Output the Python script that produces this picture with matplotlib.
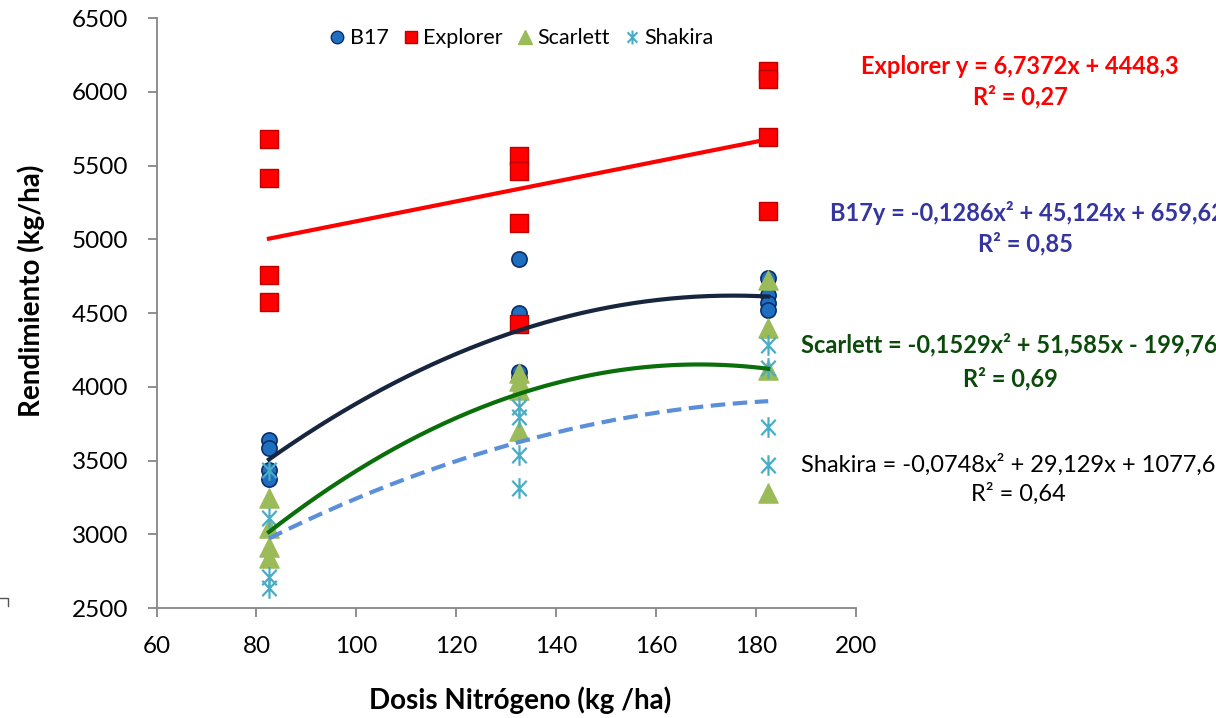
import numpy as np
import matplotlib.pyplot as plt
from matplotlib.path import Path
from matplotlib.lines import Line2D

plt.rcParams['font.family'] = ['Lato', 'DejaVu Sans']

# dosis de nitrógeno (kg/ha) y rendimientos por variedad
dosis = [82.5] * 4 + [132.5] * 4 + [182.5] * 4
b17 = [3640, 3585, 3436, 3375, 4864, 4502, 4102, 4056, 4740, 4620, 4570, 4520]
explorer = [5680, 5415, 4758, 4575, 5565, 5465, 5110, 4425, 6140, 6085, 5695, 5190]
scarlett = [3246, 3040, 2915, 2840, 4090, 4040, 3980, 3700, 4724, 4396, 4114, 3278]
shakira = [3436, 3110, 2710, 2636, 3865, 3797, 3537, 3311, 4280, 4130, 3730, 3470]

# coeficientes de las líneas de tendencia (mayor grado primero)
coef_explorer = [6.7372, 4448.3]
coef_b17 = [-0.1286, 45.124, 659.62]
coef_scarlett = [-0.1529, 51.585, -199.76]
coef_shakira = [-0.0748, 29.129, 1077.6]

# asterisco tipo Excel: x con una barra vertical
star = Path([(0, -1), (0, 1), (-0.7, -0.75), (0.7, 0.75), (-0.7, 0.75), (0.7, -0.75)],
            [Path.MOVETO, Path.LINETO, Path.MOVETO, Path.LINETO, Path.MOVETO, Path.LINETO])

W, H = 1216, 718
fig = plt.figure(figsize=(W / 100, H / 100), dpi=100)
ax = fig.add_axes([0.1288, 0.1532, 0.5748, 0.8217])

ax.scatter(dosis, b17, marker='o', s=120, c='#1F6FC0', edgecolors='#0B2E6B', linewidths=1.2, zorder=3)
ax.scatter(dosis, explorer, marker='s', s=150, c='#FF0000', edgecolors='#C00000', linewidths=1.0, zorder=3)
ax.scatter(dosis, scarlett, marker='^', s=190, c='#9BBB59', edgecolors='#9BBB59', linewidths=1.0, zorder=3)
ax.scatter(dosis, shakira, marker=star, s=220, c='#4BACC6', linewidths=1.6, zorder=3)

xt = np.linspace(min(dosis), max(dosis), 200)
ax.plot(xt, np.polyval(coef_explorer, xt), color='#FF0000', lw=3, zorder=4)
ax.plot(xt, np.polyval(coef_b17, xt), color='#17253F', lw=3, zorder=4)
ax.plot(xt, np.polyval(coef_scarlett, xt), color='#0A6E0A', lw=3, zorder=4)
ax.plot(xt, np.polyval(coef_shakira, xt), color='#5B8FD9', lw=3, ls=(0, (3.5, 1.8)), zorder=4)

ax.set_xlim(60, 200)
ax.set_ylim(2500, 6500)
ax.set_xticks(np.arange(60, 201, 20))
ax.set_yticks(np.arange(2500, 6501, 500))
for s in ['top', 'right']:
    ax.spines[s].set_visible(False)
for s in ['left', 'bottom']:
    ax.spines[s].set_color('#868686')
    ax.spines[s].set_linewidth(1.3)
ax.tick_params(axis='both', direction='out', length=6.5, width=1.3, color='#868686', labelsize=17.5)
ax.tick_params(axis='y', pad=14)
ax.tick_params(axis='x', pad=14)

# títulos de los ejes
fig.text(520 / W, 1 - 700 / H, 'Dosis Nitrógeno (kg /ha)', fontsize=20, fontweight='bold',
         ha='center', va='center')
fig.text(31 / W, 1 - 291 / H, 'Rendimiento (kg/ha)', fontsize=20, fontweight='bold',
         rotation=90, ha='center', va='center')

handles = [
    Line2D([], [], ls='', marker='o', ms=9, mfc='#1F6FC0', mec='#0B2E6B'),
    Line2D([], [], ls='', marker='s', ms=9, mfc='#FF0000', mec='#C00000'),
    Line2D([], [], ls='', marker='^', ms=10, mfc='#9BBB59', mec='#9BBB59'),
    Line2D([], [], ls='', marker=star, ms=10, mec='#4BACC6', mew=1.5),
]
ax.legend(handles, ['B17', 'Explorer', 'Scarlett', 'Shakira'], loc='center', bbox_to_anchor=(0.52, 0.966),
          ncol=4, frameon=False, fontsize=15.5, handletextpad=0.1, columnspacing=0.5, handlelength=1.0)

# ecuaciones de las tendencias
fs = 17
fig.text(1020 / W, 1 - 66 / H, 'Explorer y = 6,7372x + 4448,3', color='#FF0000', fontsize=fs,
         fontweight='bold', ha='center', va='center')
fig.text(1020 / W, 1 - 97 / H, 'R² = 0,27', color='#FF0000', fontsize=fs, fontweight='bold',
         ha='center', va='center')
fig.text(830 / W, 1 - 213 / H, 'B17y = -0,1286x² + 45,124x + 659,62', color='#3535A0', fontsize=fs,
         fontweight='bold', ha='left', va='center')
fig.text(1026 / W, 1 - 244 / H, 'R² = 0,85', color='#3535A0', fontsize=fs, fontweight='bold',
         ha='center', va='center')
fig.text(801 / W, 1 - 345 / H, 'Scarlett = -0,1529x² + 51,585x - 199,76', color='#0B4A0B', fontsize=fs,
         fontweight='bold', ha='left', va='center')
fig.text(1010 / W, 1 - 379 / H, 'R² = 0,69', color='#0B4A0B', fontsize=fs, fontweight='bold',
         ha='center', va='center')
fig.text(801 / W, 1 - 465 / H, 'Shakira = -0,0748x² + 29,129x + 1077,6', color='black', fontsize=fs,
         ha='left', va='center')
fig.text(1018 / W, 1 - 494 / H, 'R² = 0,64', color='black', fontsize=fs, ha='center', va='center')

# pequeño trazo en la esquina inferior izquierda
fig.add_artist(Line2D([0, 8 / W, 8 / W], [1 - 598 / H, 1 - 598 / H, 1 - 606 / H],
                      color='#555555', lw=1))

fig.savefig('out.png', dpi=100)
